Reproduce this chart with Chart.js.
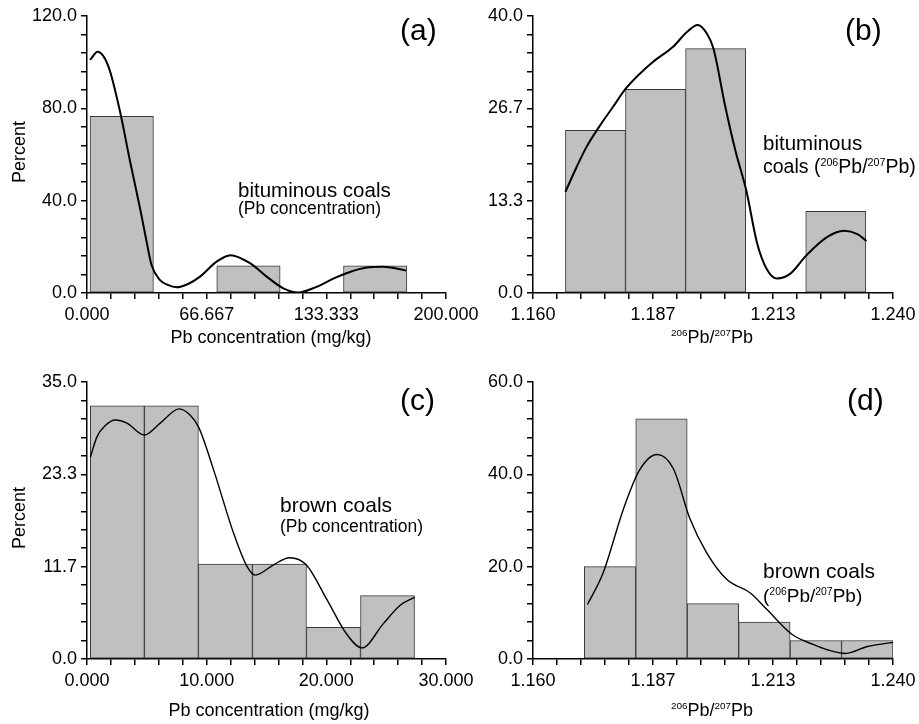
<!DOCTYPE html>
<html>
<head>
<meta charset="utf-8">
<script src="https://cdn.jsdelivr.net/npm/chart.js@4.4.1/dist/chart.umd.min.js"></script>
<style>
  html, body { margin: 0; padding: 0; background: #fff; }
  #wrap { position: relative; width: 919px; height: 724px; }
  #wrap canvas { position: absolute; left: 0; top: 0; }
</style>
</head>
<body>
<div id="wrap">
  <canvas id="chart-a" width="919" height="724"></canvas>
  <canvas id="chart-b" width="919" height="724"></canvas>
  <canvas id="chart-c" width="919" height="724"></canvas>
  <canvas id="chart-d" width="919" height="724"></canvas>
</div>
<script>
// (a) bituminous coals, Pb concentration
var aBinMid = [19.35, 54.65, 89.95, 125.25, 160.55];
var aPct = [76.5, 0, 11.8, 0, 11.8];
var aCurveX = [1.7, 6, 12, 18, 24, 30, 33, 36, 40.7, 45, 50, 56, 63, 72.2, 80, 90.8, 100.1, 109.4, 117.6, 128, 137.2, 146.5, 155.8, 165, 174.4, 177.7];
var aCurveY = [101, 104.5, 98, 80, 57, 35, 23, 12, 5.6, 3.5, 2.5, 3.8, 7.1, 13.6, 16.4, 12.9, 7.1, 2.0, 0.2, 2.7, 6.2, 9.1, 11.0, 11.4, 10.3, 9.7];
var aXTicks = ['0.000', '66.667', '133.333', '200.000'];
var aYTicks = ['0.0', '40.0', '80.0', '120.0'];

// (b) bituminous coals, 206Pb/207Pb
var bBinMid = [1.17388, 1.18723, 1.20058, 1.21393, 1.22728];
var bPct = [23.5, 29.4, 35.3, 0, 11.8];
var bCurveX = [1.1672, 1.1697, 1.1719, 1.1749, 1.1778, 1.1806, 1.1838, 1.1867, 1.1912, 1.1942, 1.1966, 1.1986, 1.2001, 1.2027, 1.2050, 1.2074, 1.2098, 1.2120, 1.2142, 1.2172, 1.2207, 1.2254, 1.2291, 1.2321, 1.2341];
var bCurveY = [14.6, 18.2, 21.1, 24.2, 26.9, 29.5, 31.7, 33.4, 35.6, 37.7, 38.7, 37.5, 35.3, 27.0, 20.5, 14.8, 7.2, 3.4, 2.1, 2.8, 5.4, 8.1, 9.0, 8.5, 7.5];
var bXTicks = ['1.160', '1.187', '1.213', '1.240'];
var bYTicks = ['0.0', '13.3', '26.7', '40.0'];

// (c) brown coals, Pb concentration
var cBinMid = [2.5375, 7.0525, 11.5675, 16.0825, 20.5975, 25.1125];
var cPct = [32, 32, 12, 12, 4, 8];
var cCurveX = [0.28, 0.84, 1.53, 2.36, 3.34, 4.79, 6.12, 7.71, 8.63, 9.33, 10.58, 12.25, 13.37, 14.06, 15.59, 16.93, 18.32, 20.05, 21.72, 22.97, 24.78, 26.17, 27.37];
var cCurveY = [25.5, 28.1, 29.5, 30.2, 29.8, 28.3, 29.8, 31.6, 30.8, 29.3, 23.9, 15.9, 11.7, 10.6, 11.9, 12.8, 11.9, 7.5, 3.1, 1.4, 4.5, 6.8, 7.8];
var cXTicks = ['0.000', '10.000', '20.000', '30.000'];
var cYTicks = ['0.0', '11.7', '23.3', '35.0'];

// (d) brown coals, 206Pb/207Pb
var dBinMid = [1.17712, 1.18855, 1.19998, 1.21142, 1.22285, 1.23428];
var dPct = [20, 52, 12, 8, 4, 4];
var dCurveX = [1.1721, 1.1756, 1.1801, 1.1836, 1.1876, 1.1912, 1.1949, 1.1986, 1.2031, 1.2083, 1.2120, 1.2176, 1.2224, 1.2254, 1.2295, 1.2343, 1.2400];
var dCurveY = [11.8, 18.7, 32.5, 40.8, 44.3, 41.2, 30.3, 23.0, 17.2, 14.3, 10.7, 5.3, 3.1, 2.0, 1.2, 2.7, 3.6];
var dXTicks = ['1.160', '1.187', '1.213', '1.240'];
var dYTicks = ['0.0', '20.0', '40.0', '60.0'];

var FONT = "'Liberation Sans', Arial, Helvetica, sans-serif";
var MINOR = 5;   // tick marks per labelled interval
var Y_W = 87;    // y axis box width
var X_H = 40;    // x axis box height
var SUP = 0.55;  // superscript size ratio

function tickValues(labels) {
    var lo = parseFloat(labels[0]), hi = parseFloat(labels[labels.length - 1]);
    var n = (labels.length - 1) * MINOR, out = [];
    for (var i = 0; i <= n; i++) out.push({ value: lo + (hi - lo) * i / n });
    return out;
}

// draws text with ^123 parts raised as superscripts
function drawRich(ctx, str, x, y, size, align) {
    var parts = str.split(/\^(\d+)/), w = 0, i;
    for (i = 0; i < parts.length; i++) {
        ctx.font = (i % 2 ? size * SUP : size) + 'px ' + FONT;
        w += ctx.measureText(parts[i]).width;
    }
    var cx = align === 'center' ? x - w / 2 : x;
    ctx.textAlign = 'left';
    for (i = 0; i < parts.length; i++) {
        var s = i % 2 ? size * SUP : size;
        ctx.font = s + 'px ' + FONT;
        ctx.fillText(parts[i], cx, i % 2 ? y - size * 0.38 : y);
        cx += ctx.measureText(parts[i]).width;
    }
}

function textPlugin(items) {
    return {
        id: 'panelText',
        afterDraw: function (chart) {
            var ctx = chart.ctx;
            ctx.save();
            ctx.fillStyle = '#000';
            items.forEach(function (it) {
                if (it.rotate) {
                    ctx.save();
                    ctx.translate(it.x, it.y);
                    ctx.rotate(-Math.PI / 2);
                    ctx.font = it.size + 'px ' + FONT;
                    ctx.textAlign = 'center';
                    ctx.textBaseline = 'middle';
                    ctx.fillText(it.text, 0, 0);
                    ctx.restore();
                } else {
                    ctx.textBaseline = 'alphabetic';
                    drawRich(ctx, it.text, it.x, it.y, it.size, it.align);
                }
            });
            ctx.restore();
        }
    };
}

function axisTicks(labels) {
    return {
        autoSkip: false, maxRotation: 0, minRotation: 0, color: '#000',
        font: { family: FONT, size: 18 },
        callback: function (v, i) { return i % MINOR === 0 ? labels[i / MINOR] : ''; }
    };
}

var axisGrid = { display: true, offset: false, drawOnChartArea: false, drawTicks: true, tickLength: 6, color: '#000', lineWidth: 1.5 };
var axisBorder = { display: true, color: '#000', width: 1.5 };

function panel(id, mid, pct, cx, cy, xt, yt, area, lw, texts) {
    var xTicks = axisTicks(xt); xTicks.padding = 5;
    var yTicks = axisTicks(yt); yTicks.padding = 4;
    new Chart(document.getElementById(id), {
        type: 'bar',
        data: {
            datasets: [{
                type: 'line',
                data: cx.map(function (x, i) { return { x: x, y: cy[i] }; }),
                borderColor: '#000',
                borderWidth: lw,
                pointRadius: 0,
                cubicInterpolationMode: 'monotone',
                fill: false,
                order: 0
            }, {
                type: 'bar',
                data: mid.map(function (x, i) { return { x: x, y: pct[i] }; }),
                backgroundColor: '#c0c0c0',
                borderColor: '#3a3a3a',
                borderWidth: 1,
                borderSkipped: false,
                barThickness: 'flex',
                barPercentage: 1,
                categoryPercentage: 1,
                order: 1
            }]
        },
        options: {
            responsive: false,
            animation: false,
            devicePixelRatio: 1,
            layout: { padding: { left: area.l - Y_W, right: 919 - area.r, top: area.t, bottom: 724 - area.b - X_H } },
            plugins: { legend: { display: false }, tooltip: { enabled: false } },
            scales: {
                x: {
                    type: 'linear', offset: false,
                    min: parseFloat(xt[0]), max: parseFloat(xt[xt.length - 1]),
                    afterBuildTicks: function (s) { s.ticks = tickValues(xt); },
                    afterFit: function (s) { s.height = X_H; s.paddingLeft = 0; s.paddingRight = 0; },
                    ticks: xTicks, grid: axisGrid, border: axisBorder
                },
                y: {
                    type: 'linear',
                    min: parseFloat(yt[0]), max: parseFloat(yt[yt.length - 1]),
                    afterBuildTicks: function (s) { s.ticks = tickValues(yt); },
                    afterFit: function (s) { s.width = Y_W; s.paddingTop = 0; s.paddingBottom = 0; },
                    ticks: yTicks, grid: axisGrid, border: axisBorder
                }
            }
        },
        plugins: [textPlugin(texts)]
    });
}

panel('chart-a', aBinMid, aPct, aCurveX, aCurveY, aXTicks, aYTicks,
    { l: 87, r: 446, t: 16, b: 293 }, 2, [
        { text: '(a)', x: 400, y: 40, size: 30 },
        { text: 'bituminous coals', x: 238, y: 197, size: 20.5 },
        { text: '(Pb concentration)', x: 238, y: 214, size: 17.5 },
        { text: 'Pb concentration (mg/kg)', x: 271, y: 343, size: 18, align: 'center' },
        { text: 'Percent', x: 20, y: 152, size: 18, rotate: true }
    ]);

panel('chart-b', bBinMid, bPct, bCurveX, bCurveY, bXTicks, bYTicks,
    { l: 533, r: 893, t: 16, b: 293 }, 2, [
        { text: '(b)', x: 845, y: 40, size: 30 },
        { text: 'bituminous', x: 763, y: 150, size: 20.5 },
        { text: 'coals (^206Pb/^207Pb)', x: 763, y: 173, size: 19.5 },
        { text: '^206Pb/^207Pb', x: 712, y: 343, size: 18, align: 'center' }
    ]);

panel('chart-c', cBinMid, cPct, cCurveX, cCurveY, cXTicks, cYTicks,
    { l: 87, r: 446, t: 382, b: 659 }, 1.4, [
        { text: '(c)', x: 400, y: 410, size: 30 },
        { text: 'brown coals', x: 280, y: 512, size: 21 },
        { text: '(Pb concentration)', x: 280, y: 532, size: 17.5 },
        { text: 'Pb concentration (mg/kg)', x: 269, y: 716, size: 18, align: 'center' },
        { text: 'Percent', x: 20, y: 518, size: 18, rotate: true }
    ]);

panel('chart-d', dBinMid, dPct, dCurveX, dCurveY, dXTicks, dYTicks,
    { l: 533, r: 893, t: 382, b: 659 }, 1.4, [
        { text: '(d)', x: 847, y: 410, size: 30 },
        { text: 'brown coals', x: 763, y: 578, size: 21 },
        { text: '(^206Pb/^207Pb)', x: 763, y: 602, size: 19 },
        { text: '^206Pb/^207Pb', x: 712, y: 716, size: 18, align: 'center' }
    ]);
</script>
</body>
</html>
